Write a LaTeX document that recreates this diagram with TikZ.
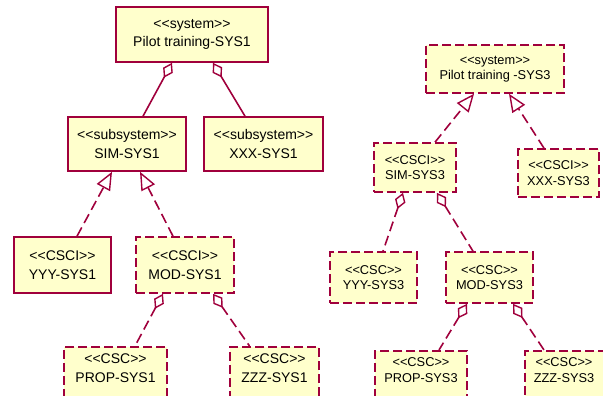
\documentclass[tikz,border=0pt]{standalone}
\usepackage{fontspec}
\setmainfont{Liberation Sans}[Ligatures=TeXOff]
\usetikzlibrary{arrows.meta}
\definecolor{umlline}{RGB}{160,0,60}
\definecolor{umlfill}{RGB}{255,255,204}
\tikzset{
  box/.style={draw=umlline, fill=umlfill, line width=1.6pt, inner sep=0pt, align=center, text=black},
  sbox/.style={box},
  dbox/.style={box, dash pattern=on 9pt off 4pt},
  lt/.style={font=\fontsize{14}{18.5}\selectfont},
  rt/.style={font=\fontsize{12.8}{15.5}\selectfont},
  txt/.style={inner sep=0pt, align=center, text=black},
  conn/.style={draw=umlline, line width=1.6pt},
  dconn/.style={conn, dash pattern=on 10pt off 5pt},
  agg/.style={{Diamond[open, length=17pt, width=11pt, line width=1.4pt]}-},
  gen/.style={-{Triangle[open, length=18pt, width=15pt, line width=1.4pt]}},
}
\begin{document}
\begin{tikzpicture}[x=1pt, y=-1pt]
\useasboundingbox (0,0) rectangle (603,396);
\clip (0,0) rectangle (603,396);
% ---------- left tree (SYS1) ----------
\node[sbox, lt, minimum width=152pt, minimum height=55pt] (p1) at (192,34.5) {<<system>>\\Pilot training-SYS1};
\node[sbox, lt, minimum width=118pt, minimum height=54pt] (sim1) at (127,144) {<<subsystem>>\\SIM-SYS1};
\node[sbox, lt, minimum width=119pt, minimum height=54pt] (xxx1) at (263.5,144) {<<subsystem>>\\XXX-SYS1};
\node[sbox, lt, minimum width=97pt, minimum height=56pt] (yyy1) at (62.5,265) {<<CSCI>>\\YYY-SYS1};
\node[dbox, lt, minimum width=98pt, minimum height=56pt] (mod1) at (185,265) {<<CSCI>>\\MOD-SYS1};
\node[dbox, minimum width=103pt, minimum height=90pt, anchor=north] (prop1) at (115.5,346) {};
\node[txt, lt] (prop1t) at (115.5,368) {<<CSC>>\\PROP-SYS1};
\node[dbox, minimum width=89pt, minimum height=90pt, anchor=north] (zzz1) at (274.5,346) {};
\node[txt, lt] (zzz1t) at (274.5,368) {<<CSC>>\\ZZZ-SYS1};
% connectors
\draw[conn, agg] ([xshift=-20pt]p1.south) -- ([xshift=16pt]sim1.north);
\draw[conn, agg] ([xshift=21pt]p1.south) -- ([xshift=-18.5pt]xxx1.north);
\draw[dconn, gen] ([xshift=14.5pt]yyy1.north) -- ([xshift=-15pt]sim1.south);
\draw[dconn, gen] ([xshift=-12pt]mod1.north) -- ([xshift=13pt]sim1.south);
\draw[dconn, agg] ([xshift=-22pt]mod1.south) -- ([xshift=19.5pt]prop1.north);
\draw[dconn, agg] ([xshift=28pt]mod1.south) -- ([xshift=-25pt]zzz1.north);
% ---------- right tree (SYS3) ----------
\node[dbox, rt, minimum width=138pt, minimum height=48pt] (p3) at (495,69) {<<system>>\\Pilot training -SYS3};
\node[dbox, rt, minimum width=82pt, minimum height=49pt] (sim3) at (415,167.5) {<<CSCI>>\\SIM-SYS3};
\node[dbox, rt, minimum width=81pt, minimum height=48pt] (xxx3) at (558.5,173) {<<CSCI>>\\XXX-SYS3};
\node[dbox, rt, minimum width=87pt, minimum height=51pt] (yyy3) at (373.5,277.5) {<<CSC>>\\YYY-SYS3};
\node[dbox, rt, minimum width=87pt, minimum height=51pt] (mod3) at (489.5,277.5) {<<CSC>>\\MOD-SYS3};
\node[dbox, minimum width=92pt, minimum height=90pt, anchor=north] (prop3) at (421,350) {};
\node[txt, rt] (prop3t) at (421,370) {<<CSC>>\\PROP-SYS3};
\node[dbox, minimum width=100pt, minimum height=90pt, anchor=north west] (zzz3) at (524,350) {};
\node[txt, rt] (zzz3t) at (564,370) {<<CSC>>\\ZZZ-SYS3};
% connectors
\draw[dconn, gen] ([xshift=20pt]sim3.north) -- ([xshift=-21pt]p3.south);
\draw[dconn, gen] ([xshift=-14.5pt]xxx3.north) -- ([xshift=14pt]p3.south);
\draw[dconn, agg] ([xshift=-12pt]sim3.south) -- ([xshift=9.5pt]yyy3.north);
\draw[dconn, agg] ([xshift=22pt]sim3.south) -- ([xshift=-16.5pt]mod3.north);
\draw[dconn, agg] ([xshift=-22.5pt]mod3.south) -- ([xshift=18pt]prop3.north);
\draw[dconn, agg] ([xshift=23.5pt]mod3.south) -- ([xshift=20pt]zzz3.north west);
\end{tikzpicture}
\end{document}
